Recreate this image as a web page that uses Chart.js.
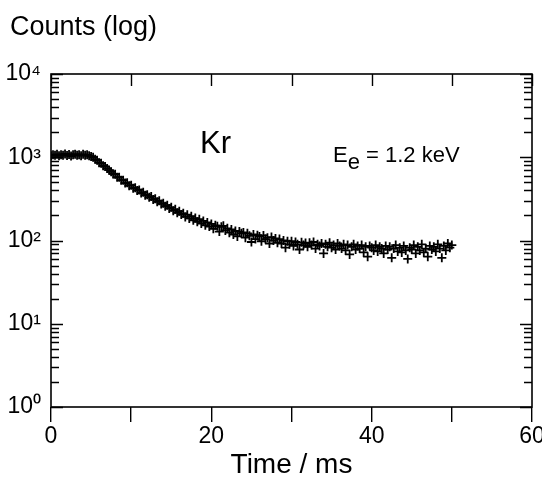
<!DOCTYPE html>
<html>
<head>
<meta charset="utf-8">
<script src="https://cdn.jsdelivr.net/npm/chart.js@4.4.1/dist/chart.umd.min.js"></script>
<style>
  body { margin: 0; background: #fff; }
  #wrap { width: 542px; height: 479px; }
</style>
</head>
<body>
<div id="wrap"><canvas id="myChart"></canvas></div>
<script>
// time axis of the measurement (ms), 8 samples per row
var times = [0, 0.25, 0.5, 0.75, 1, 1.25, 1.5, 1.75,
  2, 2.25, 2.5, 2.75, 3, 3.25, 3.5, 3.75,
  4, 4.25, 4.5, 4.75, 5, 5.25, 5.5, 5.75,
  6, 6.25, 6.5, 6.75, 7, 7.25, 7.5, 7.75,
  8, 8.25, 8.5, 8.75, 9, 9.25, 9.5, 9.75,
  10, 10.25, 10.5, 10.75, 11, 11.25, 11.5, 11.75,
  12, 12.25, 12.5, 12.75, 13, 13.25, 13.5, 13.75,
  14, 14.25, 14.5, 14.75, 15, 15.25, 15.5, 15.75,
  16, 16.25, 16.5, 16.75, 17, 17.25, 17.5, 17.75,
  18, 18.25, 18.5, 18.75, 19, 19.25, 19.5, 19.75,
  20, 20.25, 20.5, 20.75, 21, 21.25, 21.5, 21.75,
  22, 22.25, 22.5, 22.75, 23, 23.25, 23.5, 23.75,
  24, 24.25, 24.5, 24.75, 25, 25.25, 25.5, 25.75,
  26, 26.25, 26.5, 26.75, 27, 27.25, 27.5, 27.75,
  28, 28.25, 28.5, 28.75, 29, 29.25, 29.5, 29.75,
  30, 30.25, 30.5, 30.75, 31, 31.25, 31.5, 31.75,
  32, 32.25, 32.5, 32.75, 33, 33.25, 33.5, 33.75,
  34, 34.25, 34.5, 34.75, 35, 35.25, 35.5, 35.75,
  36, 36.25, 36.5, 36.75, 37, 37.25, 37.5, 37.75,
  38, 38.25, 38.5, 38.75, 39, 39.25, 39.5, 39.75,
  40, 40.25, 40.5, 40.75, 41, 41.25, 41.5, 41.75,
  42, 42.25, 42.5, 42.75, 43, 43.25, 43.5, 43.75,
  44, 44.25, 44.5, 44.75, 45, 45.25, 45.5, 45.75,
  46, 46.25, 46.5, 46.75, 47, 47.25, 47.5, 47.75,
  48, 48.25, 48.5, 48.75, 49, 49.25, 49.5, 49.75,
  50];
// Kr counts
var counts = [1045, 1070, 1055, 1085, 1040, 1075, 1060, 1095,
  1050, 1080, 1035, 1070, 1090, 1055, 1075, 1045,
  1085, 1060, 1070, 1040, 1020, 1000, 945, 920,
  860, 845, 790, 775, 735, 700, 670, 630,
  625, 575, 575, 530, 530, 490, 495, 455,
  462, 425, 430, 400, 405, 372, 380, 350,
  355, 330, 338, 310, 318, 292, 300, 275,
  280, 258, 265, 243, 250, 228, 237, 215,
  225, 205, 212, 192, 204, 184, 196, 175,
  186, 168, 180, 160, 172, 152, 165, 147,
  158, 138, 152, 148, 128, 146, 150, 132,
  140, 124, 136, 118, 130, 112, 128, 122,
  125, 108, 122, 114, 96, 118, 104, 116,
  112, 98, 115, 104, 108, 92, 110, 100,
  106, 94, 104, 92, 100, 82, 98, 90,
  98, 86, 96, 90, 78, 95, 88, 93,
  84, 94, 88, 96, 80, 90, 86, 92,
  70, 90, 84, 94, 82, 88, 78, 92,
  86, 80, 90, 76, 88, 68, 84, 90,
  78, 86, 80, 88, 72, 84, 64, 86,
  82, 76, 88, 74, 84, 80, 70, 86,
  78, 84, 62, 80, 88, 74, 82, 72,
  86, 76, 60, 82, 78, 88, 70, 84,
  76, 90, 72, 80, 64, 86, 78, 84,
  74, 90, 80, 62, 86, 76, 92, 82,
  88];
var xTicks = [0, 10, 20, 30, 40, 50, 60];
var xLabels = [0, 20, 40, 60];
var yDecades = [1, 10, 100, 1000, 10000];
var sup = ['\u2070', '\u00b9', '\u00b2', '\u00b3', '\u2074'];

var points = times.map(function (t, i) { return { x: t, y: counts[i] }; });

function isDecade(v) {
  return yDecades.indexOf(v) >= 0;
}

var frame = {
  id: 'frame',
  afterDraw: function (chart) {
    var ctx = chart.ctx, a = chart.chartArea;
    var xs = chart.scales.x, ys = chart.scales.y;
    ctx.save();
    ctx.strokeStyle = '#000';
    ctx.lineWidth = 1.6;
    ctx.strokeRect(a.left, a.top, a.right - a.left, a.bottom - a.top);
    ctx.lineWidth = 1.4;
    ctx.beginPath();
    ys.ticks.forEach(function (t) {
      var y = Math.round(ys.getPixelForValue(t.value)) + 0.5;
      var len = isDecade(t.value) ? 12 : 8;
      ctx.moveTo(a.left, y); ctx.lineTo(a.left + len, y);
      ctx.moveTo(a.right, y); ctx.lineTo(a.right - len, y);
    });
    xs.ticks.forEach(function (t) {
      var x = Math.round(xs.getPixelForValue(t.value)) + 0.5;
      ctx.moveTo(x, a.top); ctx.lineTo(x, a.top + 12);
    });
    ctx.stroke();

    ctx.fillStyle = '#000';
    ctx.textBaseline = 'alphabetic';
    ctx.textAlign = 'left';
    ctx.font = '27px "Liberation Sans", Arial, sans-serif';
    ctx.fillText('Counts (log)', 10, 35);
    ctx.font = '31px "Liberation Sans", Arial, sans-serif';
    ctx.fillText('Kr', 200, 153);
    ctx.font = '22px "Liberation Sans", Arial, sans-serif';
    var x0 = 333;
    ctx.fillText('E', x0, 162);
    var w = ctx.measureText('E').width;
    ctx.fillText('e', x0 + w, 169);
    w += ctx.measureText('e').width;
    ctx.fillText(' = 1.2 keV', x0 + w, 162);
    ctx.restore();
  }
};

var ctx = document.getElementById('myChart');
var myChart = new Chart(ctx, {
  type: 'scatter',
  data: {
    datasets: [{
      data: points,
      pointStyle: 'cross',
      pointRadius: 4.5,
      borderWidth: 1.8,
      borderColor: '#000',
      backgroundColor: '#000'
    }]
  },
  options: {
    responsive: true,
    maintainAspectRatio: false,
    animation: false,
    layout: { padding: { top: 74, right: 10, left: 0, bottom: 0 } },
    plugins: { legend: { display: false }, tooltip: { enabled: false } },
    scales: {
      x: {
        type: 'linear',
        min: 0,
        max: 60,
        afterBuildTicks: function (scale) {
          scale.ticks = xTicks.map(function (v) { return { value: v }; });
        },
        afterFit: function (scale) {
          scale.height = 72;
          scale.paddingLeft = 0;
          scale.paddingRight = 0;
        },
        ticks: {
          color: '#000',
          padding: 1,
          maxRotation: 0,
          autoSkip: false,
          font: { family: '"Liberation Sans", Arial, sans-serif', size: 23 },
          callback: function (v) {
            return xLabels.indexOf(v) >= 0 ? String(v) : '';
          }
        },
        grid: { drawOnChartArea: false, tickLength: 15, color: '#000', lineWidth: 1.4 },
        border: { display: false },
        title: {
          display: true,
          text: 'Time / ms',
          color: '#000',
          padding: { top: 0, bottom: -3 },
          font: { family: '"Liberation Sans", Arial, sans-serif', size: 28 }
        }
      },
      y: {
        type: 'logarithmic',
        min: 1,
        max: 10000,
        afterBuildTicks: function (scale) {
          var list = [];
          yDecades.forEach(function (d, k) {
            if (k === yDecades.length - 1) { list.push({ value: d }); return; }
            for (var m = 1; m < 10; m++) list.push({ value: d * m });
          });
          scale.ticks = list;
        },
        afterFit: function (scale) {
          scale.width = 51;
          scale.paddingTop = 0;
          scale.paddingBottom = 0;
        },
        ticks: {
          color: '#000',
          padding: 2,
          autoSkip: false,
          font: { family: '"Liberation Sans", Arial, sans-serif', size: 23 },
          callback: function (v) {
            var k = yDecades.indexOf(v);
            return k >= 0 ? '10' + sup[k] : '';
          }
        },
        grid: { display: false },
        border: { display: false }
      }
    }
  },
  plugins: [frame]
});
</script>
</body>
</html>
